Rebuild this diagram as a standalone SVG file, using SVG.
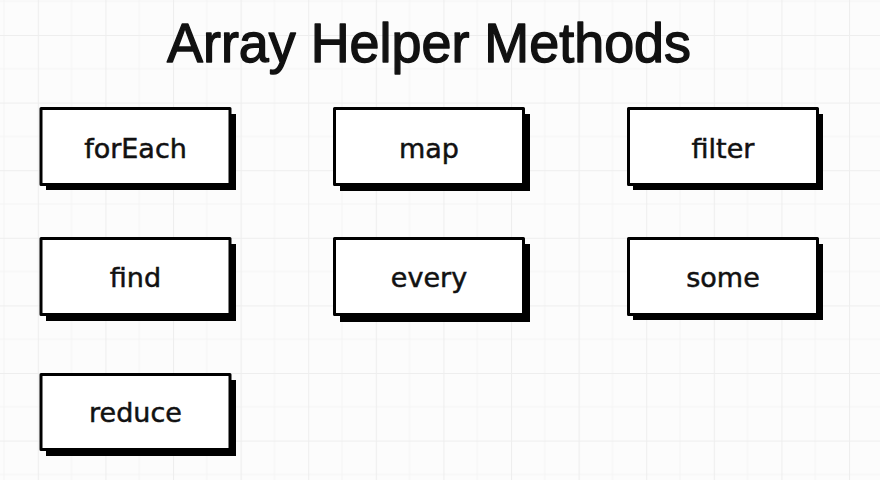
<svg xmlns="http://www.w3.org/2000/svg" width="880" height="480" viewBox="0 0 880 480">
  <defs>
    <pattern id="grid" patternUnits="userSpaceOnUse" x="37.8" y="35" width="67.6" height="67.6">
      <rect width="67.6" height="67.6" fill="#fcfcfc"/>
      <line x1="33.8" y1="0" x2="33.8" y2="67.6" stroke="#f4f4f4" stroke-width="1"/>
      <line x1="0" y1="33.8" x2="67.6" y2="33.8" stroke="#f4f4f4" stroke-width="1"/>
      <line x1="0" y1="0" x2="0" y2="67.6" stroke="#eeeeee" stroke-width="2"/>
      <line x1="0" y1="0" x2="67.6" y2="0" stroke="#eeeeee" stroke-width="2"/>
    </pattern>
  </defs>
  <style>
    .shadow { fill: #000; }
    .box { fill: #fff; stroke: #000; stroke-width: 3; stroke-linejoin: round; }
    .label { font-family: "DejaVu Sans", "Liberation Sans", sans-serif; font-size: 27px; fill: #111; stroke: #111; stroke-width: 0.5; text-anchor: middle; }
    .title { font-family: "Liberation Sans", "Arial", sans-serif; font-size: 55px; fill: #111; stroke: #111; stroke-width: 1.4; stroke-linejoin: round; text-anchor: middle; }
  </style>
  <rect width="880" height="480" fill="url(#grid)"/>
  <text class="title" x="429" y="62" textLength="524" lengthAdjust="spacingAndGlyphs">Array Helper Methods</text>
  <g id="connectors"/>
  <g id="node-forEach">
    <rect class="shadow" x="46" y="114" width="190" height="76"/>
    <rect class="box" x="41" y="108.5" width="189" height="76"/>
    <text class="label" x="135.5" y="158">forEach</text>
  </g>
  <g id="node-map">
    <rect class="shadow" x="340" y="114" width="190" height="77"/>
    <rect class="box" x="334.5" y="108.5" width="189" height="76"/>
    <text class="label" x="429" y="158">map</text>
  </g>
  <g id="node-filter">
    <rect class="shadow" x="633" y="114" width="190" height="76"/>
    <rect class="box" x="628.5" y="108.5" width="189" height="76"/>
    <text class="label" x="723" y="158">filter</text>
  </g>
  <g id="node-find">
    <rect class="shadow" x="46" y="244" width="190" height="77"/>
    <rect class="box" x="41" y="238.5" width="189" height="76"/>
    <text class="label" x="135.5" y="287">find</text>
  </g>
  <g id="node-every">
    <rect class="shadow" x="340" y="244" width="190" height="78"/>
    <rect class="box" x="334.5" y="238.5" width="189" height="76"/>
    <text class="label" x="429" y="287">every</text>
  </g>
  <g id="node-some">
    <rect class="shadow" x="633" y="244" width="190" height="76"/>
    <rect class="box" x="628.5" y="238.5" width="189" height="76"/>
    <text class="label" x="723" y="287">some</text>
  </g>
  <g id="node-reduce">
    <rect class="shadow" x="46" y="380" width="190" height="76"/>
    <rect class="box" x="41" y="374.5" width="189" height="75"/>
    <text class="label" x="135.5" y="422">reduce</text>
  </g>
</svg>
